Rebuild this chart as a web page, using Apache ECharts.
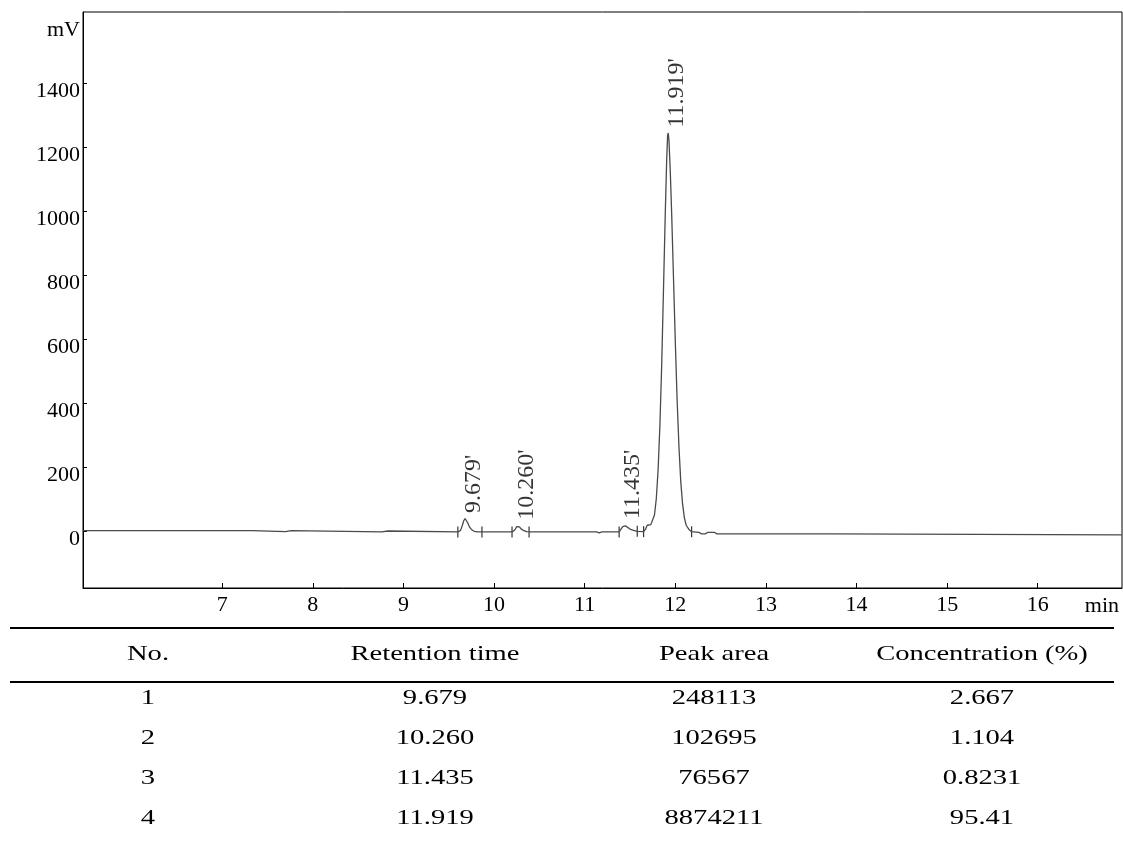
<!DOCTYPE html>
<html>
<head>
<meta charset="utf-8">
<script src="https://cdn.jsdelivr.net/npm/echarts@6/dist/echarts.min.js"></script>
<style>
  html, body { margin: 0; padding: 0; background: #fff; }
  #main { width: 1123px; height: 850px; }
</style>
</head>
<body>
<div id="main"></div>
<script>
// chromatogram trace (min, mV)
var traceTime = [5.46, 7.33, 7.35, 7.70, 7.72, 7.76, 7.78, 8.76, 8.78, 8.83, 8.85, 9.60, 9.63, 9.65, 9.665, 9.68, 9.695, 9.71, 9.73, 9.75, 9.78, 9.82,
  10.20, 10.23, 10.25, 10.265, 10.28, 10.30, 10.33, 10.36, 10.40, 11.13, 11.16, 11.19, 11.38, 11.40, 11.42, 11.435, 11.45, 11.47, 11.50, 11.54, 11.58,
  11.65, 11.67, 11.69, 11.71, 11.73, 11.75, 11.77, 11.79, 11.81, 11.83, 11.85, 11.87, 11.89, 11.905, 11.915, 11.922, 11.93, 11.945, 11.96, 11.98,
  12.00, 12.02, 12.04, 12.06, 12.08, 12.10, 12.12, 12.15, 12.18, 12.26, 12.29, 12.33, 12.36, 12.43, 12.46, 13.74, 13.76, 16.93];
var traceValue = [1, 1, -2, -2, 1, 1, -3, -3, 0, 0, -3, -3, 2, 18, 32, 39, 36, 25, 12, 5, -1, -3,
  -3, 4, 14, 18, 13, 6, 1, -2, -3, -3, -6, -3, -3, 3, 14, 20, 16, 10, 6, 2, -1,
  -2, 5, 18, 22, 20, 26, 50, 100, 190, 330, 520, 760, 1000, 1160, 1235, 1243, 1220, 1120, 990, 790,
  590, 410, 265, 155, 85, 42, 18, 5, -2, -4, -9, -9, -4, -4, -9, -9, -12, -12];

// integration start/end marks
var markTime = [9.60, 9.866, 10.198, 10.386, 11.38, 11.58, 11.65, 12.18];
var markValue = [-3, -3, -3, -3, -3, -1, -2, -2];

// peak labels
var peakTime = [9.679, 10.260, 11.435, 11.919];
var peakValue = [39, 18, 20, 1243];
var peakLabel = ["9.679'", "10.260'", "11.435'", "11.919'"];

var xTicks = [7, 8, 9, 10, 11, 12, 13, 14, 15, 16];
var yTicks = [0, 200, 400, 600, 800, 1000, 1200, 1400];

// results table
var tableHeader = ['No.', 'Retention time', 'Peak area', 'Concentration (%)'];
var tableNo = ['1', '2', '3', '4'];
var tableTime = ['9.679', '10.260', '11.435', '11.919'];
var tableArea = ['248113', '102695', '76567', '8874211'];
var tableConc = ['2.667', '1.104', '0.8231', '95.41'];

var FONT = '"Liberation Serif", "Times New Roman", serif';

var chart = echarts.init(document.getElementById('main'));

var trace = traceTime.map(function (t, i) { return [t, traceValue[i]]; });
var marks = markTime.map(function (t, i) { return [t, markValue[i]]; });
var peaks = peakTime.map(function (t, i) { return { value: [t, peakValue[i]], name: peakLabel[i] }; });

// table graphics (table text in the picture is stretched sideways)
var colX = [148, 435, 714, 982];
var rowY = [698, 738, 778, 818];
var cellStyle = function (txt) {
  return { text: txt, font: '21px ' + FONT, fill: '#000', align: 'center', verticalAlign: 'middle' };
};
var graphics = [
  { type: 'line', shape: { x1: 10, y1: 628, x2: 1114, y2: 628 }, style: { stroke: '#000', lineWidth: 2 } },
  { type: 'line', shape: { x1: 10, y1: 682, x2: 1114, y2: 682 }, style: { stroke: '#000', lineWidth: 2 } },
  { type: 'text', x: 80, y: 30, style: { text: 'mV', font: '22px ' + FONT, fill: '#000', align: 'right', verticalAlign: 'middle' } },
  { type: 'text', x: 1119, y: 606, style: { text: 'min', font: '22px ' + FONT, fill: '#000', align: 'right', verticalAlign: 'middle' } }
];
tableHeader.forEach(function (h, c) {
  graphics.push({ type: 'text', x: colX[c], y: 654, scaleX: 1.36, style: cellStyle(h) });
});
var cols = [tableNo, tableTime, tableArea, tableConc];
cols.forEach(function (col, c) {
  col.forEach(function (v, r) {
    graphics.push({ type: 'text', x: colX[c], y: rowY[r], scaleX: 1.36, style: cellStyle(v) });
  });
});

chart.setOption({
  animation: false,
  backgroundColor: '#fff',
  grid: { left: 83, right: 1, top: 12, bottom: 262, show: true, borderColor: '#000', borderWidth: 1 },
  xAxis: {
    type: 'value', min: 5.463, max: 16.93,
    axisLine: { onZero: false, lineStyle: { color: '#000', width: 1 } },
    axisTick: { inside: true, length: 5, lineStyle: { color: '#000' }, customValues: xTicks },
    axisLabel: { customValues: xTicks, color: '#000', fontFamily: FONT, fontSize: 22, margin: 6 },
    splitLine: { show: false }
  },
  yAxis: {
    type: 'value', min: -178, max: 1621,
    axisLine: { show: true, lineStyle: { color: '#000', width: 1 } },
    axisTick: { show: true, inside: true, length: 4, lineStyle: { color: '#000' }, customValues: yTicks },
    axisLabel: {
      customValues: yTicks, color: '#000', fontFamily: FONT, fontSize: 22, margin: 3,
      verticalAlign: 'top', padding: [-3, 0, 0, 0],
      formatter: function (v) { return String(v); }
    },
    splitLine: { show: false }
  },
  series: [
    {
      type: 'line', data: trace, showSymbol: false, smooth: false,
      lineStyle: { color: '#4a4a4a', width: 1.3 }
    },
    {
      type: 'scatter', data: marks, symbol: 'rect', symbolSize: [1.2, 11],
      itemStyle: { color: '#000' }
    },
    {
      type: 'scatter', data: peaks, symbolSize: 1,
      itemStyle: { color: 'rgba(0,0,0,0)' },
      label: {
        show: true, position: 'top', distance: 0, rotate: 90,
        align: 'left', verticalAlign: 'middle', offset: [5, 9],
        formatter: function (p) { return p.name; },
        color: '#000', fontFamily: FONT, fontSize: 24
      }
    }
  ],
  graphic: graphics
});
</script>
</body>
</html>
